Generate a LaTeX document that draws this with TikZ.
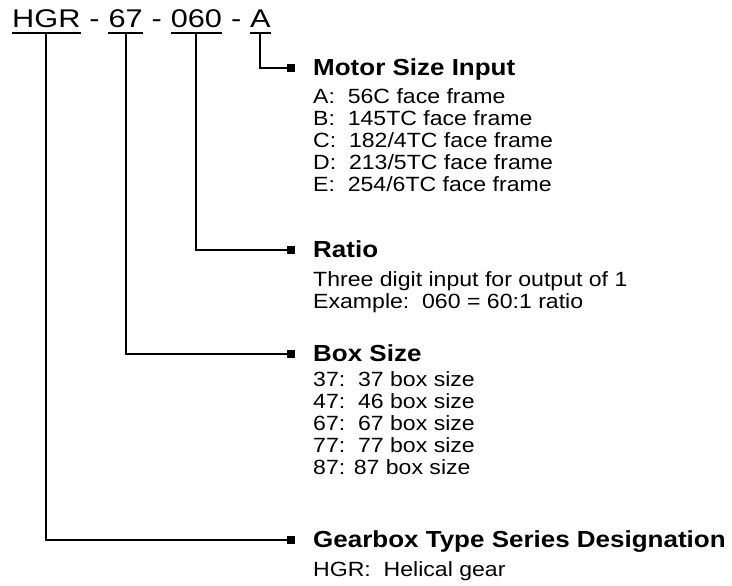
\documentclass[tikz,border=0pt]{standalone}
\usepackage{fontspec}
\setmainfont{Liberation Sans}[FakeStretch=1.12]
\newfontfamily\codefont{Liberation Sans}[FakeStretch=1.2]
\usepackage{tikz}
\usetikzlibrary{positioning}

\begin{document}
\begin{tikzpicture}[
  x=1pt, y=-1pt,
  code/.style={inner sep=0pt, font=\codefont\fontsize{25.6}{28}\selectfont},
  head/.style={inner sep=0pt, anchor=base west, font=\bfseries\fontsize{23.2}{24}\selectfont},
  body/.style={inner sep=0pt, anchor=base west, font=\fontsize{20.6}{22}\selectfont},
  wire/.style={draw=black, line width=2pt},
  pin/.style={fill=black, inner sep=0pt, minimum size=8.5pt}
]
\useasboundingbox (0,0) rectangle (732,586);

% model code
\node[code, anchor=base west] (hgr) at (12,28) {HGR};
\node[code, base right=0pt of hgr] (s1) {\ -\ \mbox{}};
\node[code, base right=0pt of s1] (sz) {67};
\node[code, base right=0pt of sz] (s2) {\ -\ \mbox{}};
\node[code, base right=0pt of s2] (rt) {060};
\node[code, base right=0pt of rt] (s3) {\ -\ \mbox{}};
\node[code, base right=0pt of s3] (mt) {A};

\foreach \n in {hgr,sz,rt,mt}
  \draw[wire] ([yshift=-5pt]\n.base west) -- ([yshift=-5pt]\n.base east);

% end points
\node[pin] (pmt) at (291,68)  {};
\node[pin] (prt) at (291,250) {};
\node[pin] (psz) at (291,354) {};
\node[pin] (phg) at (291,540) {};

\draw[wire] ([yshift=-5pt]mt.base)  |- (pmt.west);
\draw[wire] ([yshift=-5pt]rt.base)  |- (prt.west);
\draw[wire] ([yshift=-5pt]sz.base)  |- (psz.west);
\draw[wire] ([yshift=-5pt]hgr.base) |- (phg.west);

% motor size input
\node[head] (hmt) at (313,75.5) {Motor Size Input};
\foreach \t [count=\i from 0] in {A:\ \ 56C face frame, B:\ \ 145TC face frame,
    C:\ \ 182/4TC face frame, D:\ \ 213/5TC face frame, E:\ \ 254/6TC face frame}
  \node[body] (mt\i) at (313,104+21.75*\i) {\t};

% ratio
\node[head] (hrt) at (313,257.5) {Ratio};
\node[body] (rt0) at (313,286) {Three digit input for output of 1};
\node[body] (rt1) at (313,308) {Example:\ \ 060 = 60:1 ratio};

% box size
\node[head] (hsz) at (313,361.5) {Box Size};
\foreach \t [count=\i from 0] in {37:\ \ 37 box size, 47:\ \ 46 box size,
    67:\ \ 67 box size, 77:\ \ 77 box size, 87: 87 box size}
  \node[body] (sz\i) at (313,386+22*\i) {\t};

% gearbox type
\node[head] (hhg) at (313,547.5) {Gearbox Type Series Designation};
\node[body] (hg0) at (313,576) {HGR:\ \ Helical gear};
\end{tikzpicture}
\end{document}
